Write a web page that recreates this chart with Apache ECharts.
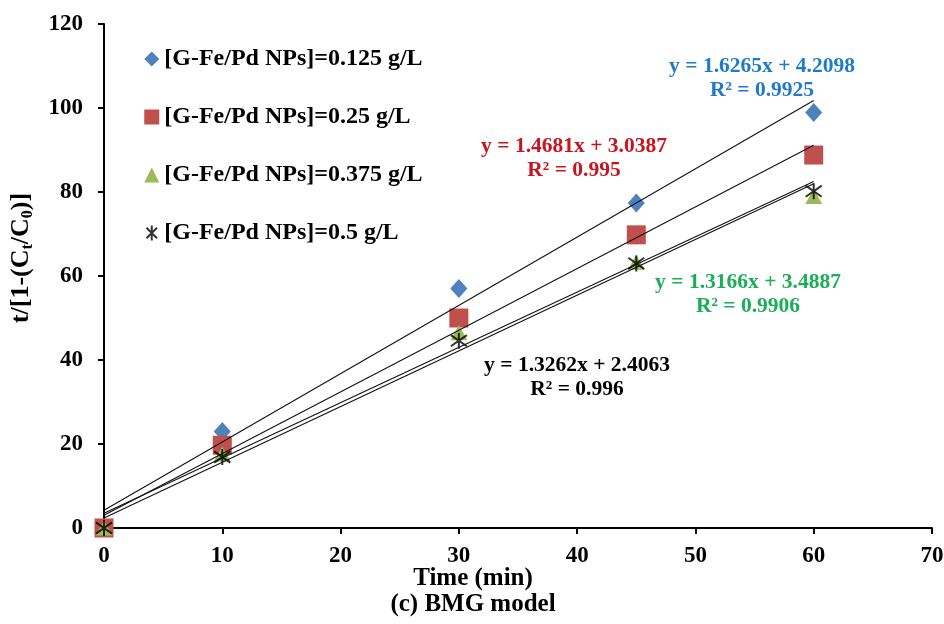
<!DOCTYPE html>
<html>
<head>
<meta charset="utf-8">
<script src="https://cdn.jsdelivr.net/npm/echarts@6/dist/echarts.min.js"></script>
<style>
html,body{margin:0;padding:0;background:#fff;}
#chart{width:944px;height:624px;}
</style>
</head>
<body>
<div id="chart"></div>
<script>
// ---- data ----
var times = [0, 10, 30, 45, 60];
var seriesNames = [
  '[G-Fe/Pd NPs]=0.125 g/L',
  '[G-Fe/Pd NPs]=0.25 g/L',
  '[G-Fe/Pd NPs]=0.375 g/L',
  '[G-Fe/Pd NPs]=0.5 g/L'
];
var vals0125 = [0, 23.0, 57.0, 77.4, 98.9];
var vals025  = [0, 19.7, 50.0, 69.8, 88.8];
var vals0375 = [0, 17.6, 46.5, 63.3, 78.9];
var vals05   = [0, 16.9, 44.6, 63.0, 80.2];
var slopes     = [1.6265, 1.4681, 1.3166, 1.3262];
var intercepts = [4.2098, 3.0387, 3.4887, 2.4063];
var r2Labels   = ['0.9925', '0.995', '0.9906', '0.996'];
var trendRange = [0, 60];
var xTicks = [0, 10, 20, 30, 40, 50, 60, 70];
var yTicks = [0, 20, 40, 60, 80, 100, 120];

var FONT = '"Liberation Serif", "Times New Roman", serif';
var markerColors = ['#4F81BD', '#C0504D', '#9BBB59', '#000000'];
var eqColors = ['#1F7BC8', '#C8141E', '#1BAE56', '#000000'];
var asterisk = 'path://M10,0L10,20M3,3L17,17M3,17L17,3';
var symbols = ['diamond', 'rect', 'triangle', asterisk];
var symbolSizes = [[17, 19], 19, [17, 15], 16];
var allVals = [vals0125, vals025, vals0375, vals05];

function pairs(xs, ys) { return xs.map(function (x, i) { return [x, ys[i]]; }); }

var series = [];
allVals.forEach(function (v, i) {
  var isAst = i === 3;
  series.push({
    name: seriesNames[i],
    type: 'scatter',
    data: pairs(times, v),
    symbol: symbols[i],
    symbolSize: symbolSizes[i],
    z: 3 + (isAst ? 1 : 0),
    itemStyle: isAst ? { color: 'none', borderColor: '#000', borderWidth: 2 } : { color: markerColors[i], opacity: 1 }
  });
});
slopes.forEach(function (m, i) {
  series.push({
    name: 'trend' + i,
    type: 'line',
    data: trendRange.map(function (x) { return [x, m * x + intercepts[i]]; }),
    symbol: 'none',
    silent: true,
    z: 6,
    lineStyle: { color: '#111', width: 1.1 },
    animation: false
  });
});

// equation label positions (pixel centres of first line)
var eqPos = [[762, 66], [574, 146], [748, 282], [577, 365]];
var graphics = [];
slopes.forEach(function (m, i) {
  var txt = 'y = ' + m.toFixed(4) + 'x + ' + intercepts[i].toFixed(4) + '\nR² = ' + r2Labels[i];
  graphics.push({
    type: 'text',
    x: eqPos[i][0], y: eqPos[i][1] - 12,
    style: {
      text: txt, fill: eqColors[i], font: 'bold 21.5px ' + FONT,
      textAlign: 'center', textVerticalAlign: 'top', lineHeight: 24
    },
    silent: true, z: 10
  });
});

var chart = echarts.init(document.getElementById('chart'), null, { renderer: 'canvas' });
chart.setOption({
  animation: false,
  backgroundColor: '#fff',
  grid: { left: 104, right: 12, top: 24, bottom: 96, containLabel: false, outerBoundsMode: 'none' },
  legend: {
    data: seriesNames,
    orient: 'vertical',
    left: 139, top: 42,
    itemWidth: 15, itemHeight: 15, itemGap: 34,
    textStyle: { fontFamily: FONT, fontWeight: 'bold', fontSize: 24, color: '#000' }
  },
  xAxis: {
    type: 'value', min: xTicks[0], max: xTicks[xTicks.length - 1], interval: 10,
    name: 'Time (min)\n(c) BMG model',
    nameLocation: 'middle', nameGap: 38, nameMoveOverlap: false,
    nameTextStyle: { fontFamily: FONT, fontWeight: 'bold', fontSize: 25, color: '#000', lineHeight: 26, padding: [0, 90, 0, 0] },
    axisLine: { lineStyle: { color: '#000', width: 2 } },
    axisTick: { show: true, inside: false, length: 6, lineStyle: { color: '#000', width: 2 } },
    axisLabel: { fontFamily: FONT, fontWeight: 'bold', fontSize: 23, color: '#000', margin: 17 },
    splitLine: { show: false }
  },
  yAxis: {
    type: 'value', min: yTicks[0], max: yTicks[yTicks.length - 1], interval: 20,
    name: 't/[1-(C{sub|t}/C{sub|0})]',
    nameLocation: 'middle', nameGap: 68, nameRotate: 90, nameMoveOverlap: false,
    nameTextStyle: {
      fontFamily: FONT, fontWeight: 'bold', fontSize: 26, color: '#000', lineHeight: 30,
      padding: [0, 0, 0, 36],
      rich: { sub: { fontFamily: FONT, fontWeight: 'bold', fontSize: 16, lineHeight: 16, verticalAlign: 'bottom', color: '#000' } }
    },
    axisLine: { show: true, lineStyle: { color: '#000', width: 2 } },
    axisTick: { show: true, inside: false, length: 6, lineStyle: { color: '#000', width: 2 } },
    axisLabel: { fontFamily: FONT, fontWeight: 'bold', fontSize: 23, color: '#000', margin: 21 },
    splitLine: { show: false }
  },
  series: series,
  graphic: graphics
});
</script>
</body>
</html>
